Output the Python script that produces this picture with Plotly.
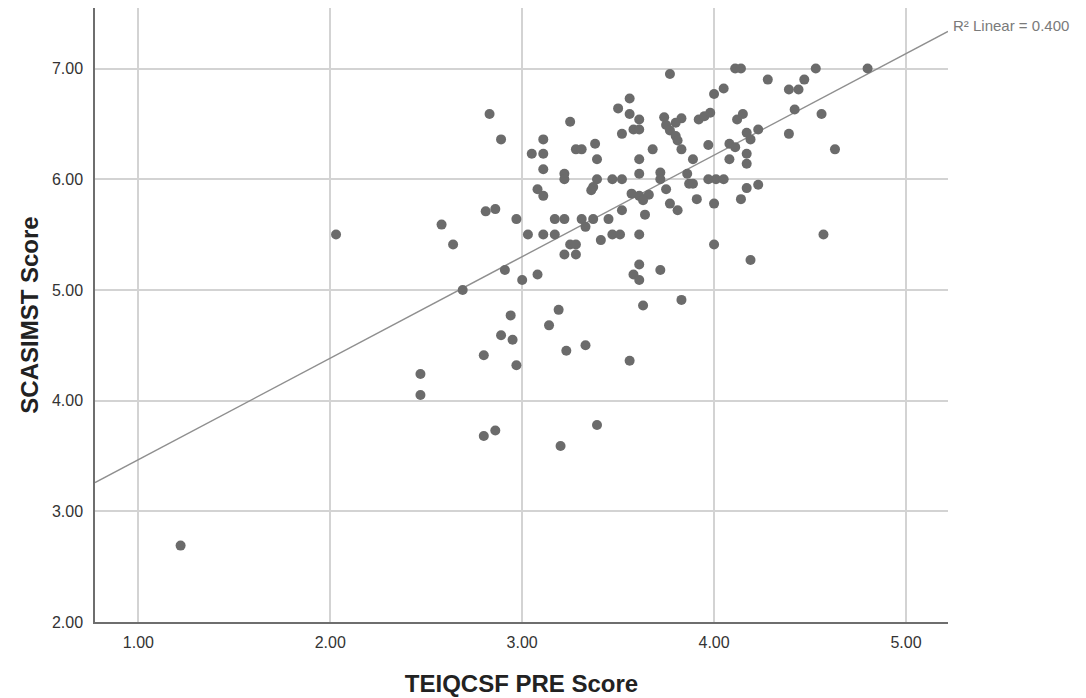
import numpy as np
import plotly.graph_objects as go

# TEIQCSF PRE Score (x) and SCASIMST Score (y)
teiqcsf_pre = [
    1.22, 2.03, 2.58, 2.64, 2.47, 2.47, 2.80, 2.86, 3.20, 3.39,
    3.03, 3.11, 3.17, 3.31, 3.33, 3.41, 3.25, 3.28, 3.22, 3.28,
    2.91, 3.00, 3.08, 2.69, 2.94, 3.19, 3.14, 2.89, 2.95, 3.33,
    3.23, 2.80, 2.97, 3.47, 3.51, 3.61, 4.00, 4.19, 3.61, 3.72,
    3.58, 3.61, 3.63, 3.83, 3.56, 4.57, 2.83, 2.89, 3.25, 3.38,
    3.11, 3.05, 3.11, 3.28, 3.31, 3.39, 3.11, 3.22, 3.22, 3.39,
    3.08, 3.11, 2.81, 2.86, 2.97, 3.17, 3.22, 3.37, 3.77, 4.11,
    4.14, 4.28, 4.05, 4.00, 3.56, 3.50, 3.56, 3.61, 3.58, 3.61,
    3.52, 3.74, 3.75, 3.77, 3.80, 3.81, 3.83, 3.80, 3.92, 3.95,
    3.98, 4.12, 4.15, 4.17, 4.23, 4.19, 4.08, 4.11, 4.17, 3.68,
    3.83, 3.97, 3.61, 3.89, 4.08, 4.17, 3.61, 3.72, 3.72, 3.86,
    3.87, 3.89, 3.47, 3.52, 3.97, 4.01, 4.05, 3.37, 3.36, 3.75,
    4.17, 4.23, 3.57, 3.61, 3.66, 3.63, 3.91, 3.77, 3.81, 4.00,
    4.14, 3.52, 3.64, 3.45, 4.53, 4.80, 4.47, 4.39, 4.44, 4.42,
    4.56, 4.39, 4.63,
]
scasimst = [
    2.69, 5.50, 5.59, 5.41, 4.24, 4.05, 3.68, 3.73, 3.59, 3.78,
    5.50, 5.50, 5.50, 5.64, 5.57, 5.45, 5.41, 5.41, 5.32, 5.32,
    5.18, 5.09, 5.14, 5.00, 4.77, 4.82, 4.68, 4.59, 4.55, 4.50,
    4.45, 4.41, 4.32, 5.50, 5.50, 5.50, 5.41, 5.27, 5.23, 5.18,
    5.14, 5.09, 4.86, 4.91, 4.36, 5.50, 6.59, 6.36, 6.52, 6.32,
    6.36, 6.23, 6.23, 6.27, 6.27, 6.18, 6.09, 6.05, 6.00, 6.00,
    5.91, 5.85, 5.71, 5.73, 5.64, 5.64, 5.64, 5.64, 6.95, 7.00,
    7.00, 6.90, 6.82, 6.77, 6.73, 6.64, 6.59, 6.54, 6.45, 6.45,
    6.41, 6.56, 6.49, 6.44, 6.39, 6.35, 6.55, 6.51, 6.54, 6.57,
    6.60, 6.54, 6.59, 6.42, 6.45, 6.36, 6.32, 6.29, 6.23, 6.27,
    6.27, 6.31, 6.18, 6.18, 6.18, 6.14, 6.05, 6.06, 6.00, 6.05,
    5.96, 5.96, 6.00, 6.00, 6.00, 6.00, 6.00, 5.93, 5.90, 5.91,
    5.92, 5.95, 5.87, 5.85, 5.86, 5.81, 5.82, 5.78, 5.72, 5.78,
    5.82, 5.72, 5.68, 5.64, 7.00, 7.00, 6.90, 6.81, 6.81, 6.63,
    6.59, 6.41, 6.27,
]

x_ticks = [1.0, 2.0, 3.0, 4.0, 5.0]
y_ticks = [2.0, 3.0, 4.0, 5.0, 6.0, 7.0]
x_tick_labels = ["1.00", "2.00", "3.00", "4.00", "5.00"]
y_tick_labels = ["2.00", "3.00", "4.00", "5.00", "6.00", "7.00"]
r2_label = "R² Linear = 0.400"

x_range = [0.774, 5.219]
y_range = [2.0, 7.547]

# Linear fit from the data
slope, intercept = np.polyfit(teiqcsf_pre, scasimst, 1)
line_x = np.array(x_range)
line_y = intercept + slope * line_x

FONT = "Liberation Sans, Arial, sans-serif"

fig = go.Figure()
fig.add_trace(go.Scatter(
    x=line_x, y=line_y, mode="lines",
    line=dict(color="#8f8f8f", width=1.4),
    hoverinfo="skip", showlegend=False, cliponaxis=False,
))
fig.add_trace(go.Scatter(
    x=teiqcsf_pre, y=scasimst, mode="markers",
    marker=dict(color="#6b6b6b", size=10, line=dict(width=0)),
    showlegend=False,
))

fig.add_annotation(
    text=r2_label, xref="paper", yref="paper",
    x=1.004, y=0.972, xanchor="left", yanchor="middle",
    showarrow=False, font=dict(family=FONT, size=15, color="#7a7a7a"),
)

fig.update_layout(
    width=1078, height=690,
    margin=dict(l=87, r=138, t=0, b=76),
    paper_bgcolor="white", plot_bgcolor="white",
    font=dict(family=FONT, color="#333333"),
    xaxis=dict(
        range=x_range, tickvals=x_ticks, ticktext=x_tick_labels,
        showgrid=True, gridcolor="#d3d3d3", gridwidth=1.5,
        showline=True, linecolor="#6e6e6e", linewidth=1.5,
        zeroline=False, ticks="", tickfont=dict(size=16, color="#333333"),
        ticklabelstandoff=5,
        title=dict(text="<b>TEIQCSF PRE Score</b>", font=dict(size=24, color="#222222"), standoff=25),
    ),
    yaxis=dict(
        range=y_range, tickvals=y_ticks, ticktext=y_tick_labels,
        showgrid=True, gridcolor="#d3d3d3", gridwidth=1.5,
        showline=True, linecolor="#6e6e6e", linewidth=1.5,
        zeroline=False, ticks="", tickfont=dict(size=16, color="#333333"),
        ticklabelstandoff=7,
        title=dict(text="<b>SCASIMST Score</b>", font=dict(size=24, color="#222222"), standoff=7),
    ),
)

fig.write_html("out.html")
